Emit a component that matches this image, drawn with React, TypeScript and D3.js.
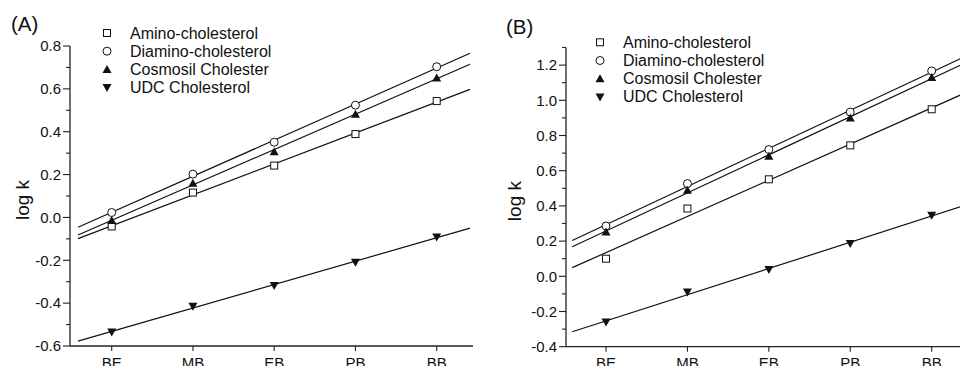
import { useEffect, useRef } from 'react';
import * as d3 from 'd3';

const categories = ['BE', 'MB', 'EB', 'PB', 'BB'];
const seriesNames = ['Amino-cholesterol', 'Diamino-cholesterol', 'Cosmosil Cholester', 'UDC Cholesterol'];
const symbols = ['square', 'circle', 'up', 'down'];

// panel A values (log k)
const aAmino = [-0.042, 0.116, 0.242, 0.389, 0.543];
const aDiamino = [0.023, 0.202, 0.351, 0.524, 0.703];
const aCosmosil = [-0.014, 0.16, 0.307, 0.481, 0.651];
const aUdc = [-0.535, -0.414, -0.318, -0.209, -0.091];

// panel B values (log k)
const bAmino = [0.1, 0.385, 0.551, 0.744, 0.949];
const bDiamino = [0.286, 0.527, 0.72, 0.933, 1.167];
const bCosmosil = [0.252, 0.489, 0.682, 0.9, 1.129];
const bUdc = [-0.26, -0.089, 0.038, 0.186, 0.347];

const aTicks = [-0.6, -0.4, -0.2, 0.0, 0.2, 0.4, 0.6, 0.8];
const bTicks = [-0.4, -0.2, 0.0, 0.2, 0.4, 0.6, 0.8, 1.0, 1.2];

const FONT = 'Liberation Sans, Arial, sans-serif';
const fmt = (v: number) => v.toFixed(1).replace('\u2212', '-');

function fit(vals: number[]) {
  const xs = vals.map((_, i) => i);
  const mx = d3.mean(xs)!;
  const my = d3.mean(vals)!;
  const num = d3.sum(xs, (x, i) => (x - mx) * (vals[i] - my));
  const den = d3.sum(xs, (x) => (x - mx) * (x - mx));
  const b = num / den;
  return (x: number) => my + b * (x - mx);
}

function drawPanel(svg: d3.Selection<SVGSVGElement, unknown, null, undefined>, cfg: {
  label: string; labelX: number; labelY: number;
  axisX: number; axisRight: number; x0: number; x4: number;
  yDomain: [number, number]; yRange: [number, number]; ticks: number[];
  series: number[][]; legX: number; legY: number; titleX: number;
}) {
  const g = svg.append('g');
  const x = d3.scaleLinear().domain([0, 4]).range([cfg.x0, cfg.x4]);
  const y = d3.scaleLinear().domain(cfg.yDomain).range(cfg.yRange);
  const bottom = cfg.yRange[0];

  // axes
  g.append('line').attr('x1', cfg.axisX).attr('x2', cfg.axisX).attr('y1', cfg.yRange[1]).attr('y2', bottom)
    .attr('stroke', '#222').attr('stroke-width', 1.3);
  g.append('line').attr('x1', cfg.axisX).attr('x2', cfg.axisRight).attr('y1', bottom).attr('y2', bottom)
    .attr('stroke', '#222').attr('stroke-width', 1.3);

  const minor = d3.range(Math.round(cfg.yDomain[0] * 10), Math.round(cfg.yDomain[1] * 10) + 1).map((d) => d / 10);
  minor.forEach((v) => {
    const major = cfg.ticks.some((t) => Math.abs(t - v) < 1e-6);
    g.append('line').attr('x1', cfg.axisX - (major ? 7 : 4)).attr('x2', cfg.axisX)
      .attr('y1', y(v)).attr('y2', y(v)).attr('stroke', '#222').attr('stroke-width', 1.1);
  });
  cfg.ticks.forEach((v) => {
    g.append('text').attr('x', cfg.axisX - 9).attr('y', y(v) + 5.3).attr('text-anchor', 'end')
      .attr('font-size', 15).attr('font-family', FONT).attr('fill', '#111').text(fmt(v));
  });
  categories.forEach((c, i) => {
    g.append('line').attr('x1', x(i)).attr('x2', x(i)).attr('y1', bottom).attr('y2', bottom + 5)
      .attr('stroke', '#222').attr('stroke-width', 1.1);
    g.append('text').attr('x', x(i)).attr('y', bottom + 21.5).attr('text-anchor', 'middle')
      .attr('font-size', 15).attr('font-family', FONT).attr('fill', '#111').text(c);
  });

  g.append('text').attr('transform', `translate(${cfg.titleX},${(cfg.yRange[1] + bottom) / 2 + 4}) rotate(-90)`)
    .attr('text-anchor', 'middle').attr('font-size', 19).attr('font-family', FONT).attr('fill', '#111').text('log k');
  g.append('text').attr('x', cfg.labelX).attr('y', cfg.labelY).attr('font-size', 20.5).attr('font-family', FONT)
    .attr('fill', '#111').text(cfg.label);

  const marker = (sel: d3.Selection<SVGGElement, unknown, null, undefined>, kind: string, cx: number, cy: number) => {
    if (kind === 'square') sel.append('rect').attr('x', cx - 3.5).attr('y', cy - 3.5).attr('width', 7).attr('height', 7)
      .attr('fill', '#fff').attr('stroke', '#111').attr('stroke-width', 1);
    else if (kind === 'circle') sel.append('circle').attr('cx', cx).attr('cy', cy).attr('r', 4)
      .attr('fill', '#fff').attr('stroke', '#111').attr('stroke-width', 1);
    else {
      const s = kind === 'up' ? 1 : -1;
      sel.append('path').attr('d', `M${cx},${cy - 4.5 * s}L${cx + 4.5},${cy + 3.5 * s}L${cx - 4.5},${cy + 3.5 * s}Z`)
        .attr('fill', '#111');
    }
  };

  const plot = g.append('g');
  cfg.series.forEach((vals) => {
    const f = fit(vals);
    plot.append('line').attr('x1', x(-0.415)).attr('x2', x(4.41)).attr('y1', y(f(-0.415))).attr('y2', y(f(4.41)))
      .attr('stroke', '#111').attr('stroke-width', 1.2);
  });
  cfg.series.forEach((vals, si) => {
    vals.forEach((v, i) => marker(plot, symbols[si], x(i), y(v)));
  });

  // legend
  seriesNames.forEach((n, i) => {
    const ly = cfg.legY + i * 18.2;
    marker(g, symbols[i], cfg.legX, ly);
    g.append('text').attr('x', cfg.legX + 23).attr('y', ly + 5.5).attr('font-size', 16).attr('font-family', FONT)
      .attr('fill', '#111').text(n);
  });
}

export default function App() {
  const ref = useRef<SVGSVGElement | null>(null);
  useEffect(() => {
    const svg = d3.select(ref.current!);
    svg.selectAll('*').remove();
    drawPanel(svg, {
      label: '(A)', labelX: 11, labelY: 31, axisX: 70, axisRight: 473, x0: 111.7, x4: 436.7,
      yDomain: [-0.6, 0.8], yRange: [346, 46], ticks: aTicks,
      series: [aAmino, aDiamino, aCosmosil, aUdc], legX: 107, legY: 33, titleX: 29,
    });
    drawPanel(svg, {
      label: '(B)', labelX: 506, labelY: 34, axisX: 566, axisRight: 970, x0: 606, x4: 931.7,
      yDomain: [-0.4, 1.3], yRange: [346.7, 47.5], ticks: bTicks,
      series: [bAmino, bDiamino, bCosmosil, bUdc], legX: 600, legY: 42.3, titleX: 521,
    });
  }, []);
  return (
    <div style={{ position: 'fixed', left: 0, top: 0, width: 960, height: 366, background: '#fff' }}>
      <svg ref={ref} width={960} height={366} style={{ display: 'block' }} />
    </div>
  );
}
